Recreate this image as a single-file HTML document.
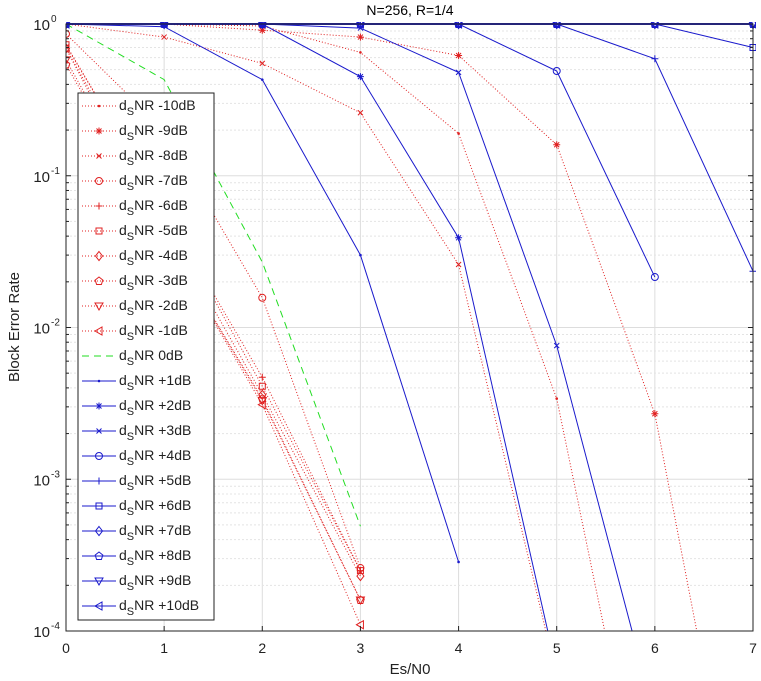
<!DOCTYPE html>
<html><head><meta charset="utf-8"><style>
html,body{margin:0;padding:0;background:#fff;width:761px;height:681px;overflow:hidden;}
svg{display:block;font-family:"Liberation Sans",Arial,sans-serif;}
</style></head><body>
<svg id="chart" width="761" height="681" viewBox="0 0 761 681" xmlns="http://www.w3.org/2000/svg">
<defs><clipPath id="clip"><rect x="66" y="22" width="690" height="609"/></clipPath></defs>
<g id="grid"></g>
<g id="series" clip-path="url(#clip)"></g>
<rect x="66" y="24" width="687" height="607" fill="none" stroke="#222" stroke-width="1"/>
<g id="axes"></g>
<text x="410" y="15" font-size="14" text-anchor="middle" fill="#000">N=256, R=1/4</text>
<text x="410" y="674" font-size="15" text-anchor="middle" fill="#222">Es/N0</text>
<text transform="translate(19,327) rotate(-90)" font-size="15" text-anchor="middle" fill="#222">Block Error Rate</text>
<g id="legend"></g>
</svg>
<script>
const xValues=[0,1,2,3,4,5,6,7];
const seriesNames=["-10dB","-9dB","-8dB","-7dB","-6dB","-5dB","-4dB","-3dB","-2dB","-1dB","0dB","+1dB","+2dB","+3dB","+4dB","+5dB","+6dB","+7dB","+8dB","+9dB","+10dB"];
const sM10=[1,1,0.97,0.65,0.19,0.0034,2.5e-6];
const sM9=[1,1,0.91,0.82,0.62,0.16,0.0027,1.2e-6];
const sM8=[1,0.82,0.55,0.26,0.026,5e-5];
const sM7=[0.86,0.2,0.0157,2.6e-4];
const sM6=[0.72,0.06,0.0047,2.5e-4];
const sM5=[0.73,0.06,0.0041,2.5e-4];
const sM4=[0.69,0.05,0.0036,2.3e-4];
const sM3=[0.54,0.04,0.0034,1.6e-4];
const sM2=[0.58,0.04,0.0033,1.6e-4];
const sM1=[0.69,0.04,0.0031,1.1e-4];
const s0=[1,0.43,0.027,4.9e-4];
const sP1=[1,0.96,0.43,0.030,2.85e-4];
const sP2=[1,1,1,0.45,0.039,5.5e-5];
const sP3=[1,1,1,0.94,0.48,0.0076,2.7e-5];
const sP4=[1,1,1,1,1,0.49,0.0215];
const sP5=[1,1,1,1,1,1,0.59,0.0235];
const sP6=[1,1,1,1,1,1,1,0.7];
const sP7=[1,1,1,1,1,1,1,1];
const sP8=[1,1,1,1,1,1,1,1];
const sP9=[1,1,1,1,1,1,1,1];
const sP10=[1,1,1,1,1,1,1,1];
const allSeries=[sM10,sM9,sM8,sM7,sM6,sM5,sM4,sM3,sM2,sM1,s0,sP1,sP2,sP3,sP4,sP5,sP6,sP7,sP8,sP9,sP10];
const markerTypes=["dot","star","x","o","plus","square","diamond","pent","tdown","tleft","none","dot","star","x","o","plus","square","diamond","pent","tdown","tleft"];
const xTicks=[0,1,2,3,4,5,6,7];
const yDecades=[0,-1,-2,-3,-4];

const NS="http://www.w3.org/2000/svg";
const X0=66,X1=753,Y0=24,Y1=631;
function xs(v){return X0+(v-0)/7*(X1-X0);}
function ys(v){return Y0+(-Math.log10(v))/4*(Y1-Y0);}
function mk(tag,attrs,parent){const e=document.createElementNS(NS,tag);for(const k in attrs)e.setAttribute(k,attrs[k]);parent.appendChild(e);return e;}

const grid=document.getElementById('grid');
xTicks.forEach(t=>{
  const l=mk('line',{x1:xs(t),x2:xs(t),y1:Y0,y2:Y1,stroke:'#ddd','stroke-width':1},grid);
  
  
});
yDecades.forEach(d=>{
  const y=ys(Math.pow(10,d));
  const l=mk('line',{x1:X0,x2:X1,y1:y,y2:y,stroke:'#ddd','stroke-width':1},grid);
  
  
  if(d>-4){for(let m=2;m<=9;m++){const ym=ys(m*Math.pow(10,d-1));
    const g=mk('line',{x1:X0,x2:X1,y1:ym,y2:ym,stroke:'#e4e4e4','stroke-width':1,'stroke-dasharray':'2,2'},grid);
    
    
  }}
});
const axes=document.getElementById('axes');
xTicks.forEach(t=>{
  const tx=mk('text',{x:xs(t),y:653,'font-size':14,'text-anchor':'middle',fill:'#222'},axes);
  tx.textContent=t;
  
  
  mk('line',{x1:xs(t),x2:xs(t),y1:Y1,y2:Y1-5,stroke:'#222'},axes);
});
yDecades.forEach(d=>{
  const y=ys(Math.pow(10,d));
  const tx=mk('text',{x:50,y:y+6,'font-size':15,'text-anchor':'end',fill:'#222'},axes);
  tx.textContent='10';
  
  
  const sp=mk('text',{x:51,y:y-2,'font-size':10,fill:'#222'},axes);
  sp.textContent=String(d);
  
  
  mk('line',{x1:X0,x2:X0+5,y1:y,y2:y,stroke:'#222'},axes);
  mk('line',{x1:X1,x2:X1-5,y1:y,y2:y,stroke:'#222'},axes);
  if(d>-4){for(let m=2;m<=9;m++){const ym=ys(m*Math.pow(10,d-1));mk('line',{x1:X0,x2:X0+3,y1:ym,y2:ym,stroke:'#222'},axes);mk('line',{x1:X1,x2:X1-3,y1:ym,y2:ym,stroke:'#222'},axes);}}
});

function marker(type,x,y,col,parent){
  const s=3.5;let e=null;
  const a={fill:'none',stroke:col,'stroke-width':1};
  if(type==='dot')e=mk('circle',{cx:x,cy:y,r:1.3,fill:col},parent);
  else if(type==='o')e=mk('circle',Object.assign({cx:x,cy:y,r:s},a),parent);
  else if(type==='plus')e=mk('path',Object.assign({d:`M${x-s} ${y}H${x+s}M${x} ${y-s}V${y+s}`},a),parent);
  else if(type==='x')e=mk('path',Object.assign({d:`M${x-2.5} ${y-2.5}L${x+2.5} ${y+2.5}M${x-2.5} ${y+2.5}L${x+2.5} ${y-2.5}`},a),parent);
  else if(type==='star')e=mk('path',Object.assign({d:`M${x-s} ${y}H${x+s}M${x} ${y-s}V${y+s}M${x-2.5} ${y-2.5}L${x+2.5} ${y+2.5}M${x-2.5} ${y+2.5}L${x+2.5} ${y-2.5}`},a),parent);
  else if(type==='square')e=mk('rect',Object.assign({x:x-3,y:y-3,width:6,height:6},a),parent);
  else if(type==='diamond')e=mk('path',Object.assign({d:`M${x} ${y-4.5}L${x+3.5} ${y}L${x} ${y+4.5}L${x-3.5} ${y}Z`},a),parent);
  else if(type==='pent')e=mk('path',Object.assign({d:`M${x} ${y-4}L${x+3.8} ${y-1}L${x+2.4} ${y+3.5}L${x-2.4} ${y+3.5}L${x-3.8} ${y-1}Z`},a),parent);
  else if(type==='tdown')e=mk('path',Object.assign({d:`M${x-4} ${y-3}L${x+4} ${y-3}L${x} ${y+4}Z`},a),parent);
  else if(type==='tleft')e=mk('path',Object.assign({d:`M${x-4} ${y}L${x+3} ${y-4}L${x+3} ${y+4}Z`},a),parent);
  return e;
}
function styleOf(i){
  if(i<10)return {col:'#e02020',dash:'1,2',w:1};
  if(i===10)return {col:'#22dd22',dash:'7,5',w:1};
  return {col:'#1a1acc',dash:'',w:1};
}
const sg=document.getElementById('series');
allSeries.forEach((vals,i)=>{
  const st=styleOf(i);
  const g=mk('g',{},sg);
  
  
  const pts=vals.map((v,j)=>xs(xValues[j])+','+ys(v)).join(' ');
  const pl=mk('polyline',{points:pts,fill:'none',stroke:st.col,'stroke-width':(i>=17?1.6:st.w),'stroke-dasharray':st.dash},g);
  
  
  if(markerTypes[i]!=='none'){vals.forEach((v,j)=>{
    const m=marker(markerTypes[i],xs(xValues[j]),ys(v),st.col,g);
    
    
  });}
});

const lg=document.getElementById('legend');
const box=mk('rect',{x:78,y:93,width:136,height:527,fill:'#fff',stroke:'#222','stroke-width':1},lg);


seriesNames.forEach((n,i)=>{
  const st=styleOf(i);const y=106+i*25;
  const g=mk('g',{},lg);
  
  
  mk('line',{x1:82,x2:116,y1:y,y2:y,stroke:st.col,'stroke-width':1,'stroke-dasharray':st.dash},g);
  if(markerTypes[i]!=='none')marker(markerTypes[i],99,y,st.col,g);
  const t=mk('text',{x:119,y:y+4,'font-size':14,fill:'#222'},g);
  t.innerHTML='d<tspan font-size="11" dy="5">S</tspan><tspan dy="-5">NR '+n+'</tspan>';
});
</script>
</body></html>
